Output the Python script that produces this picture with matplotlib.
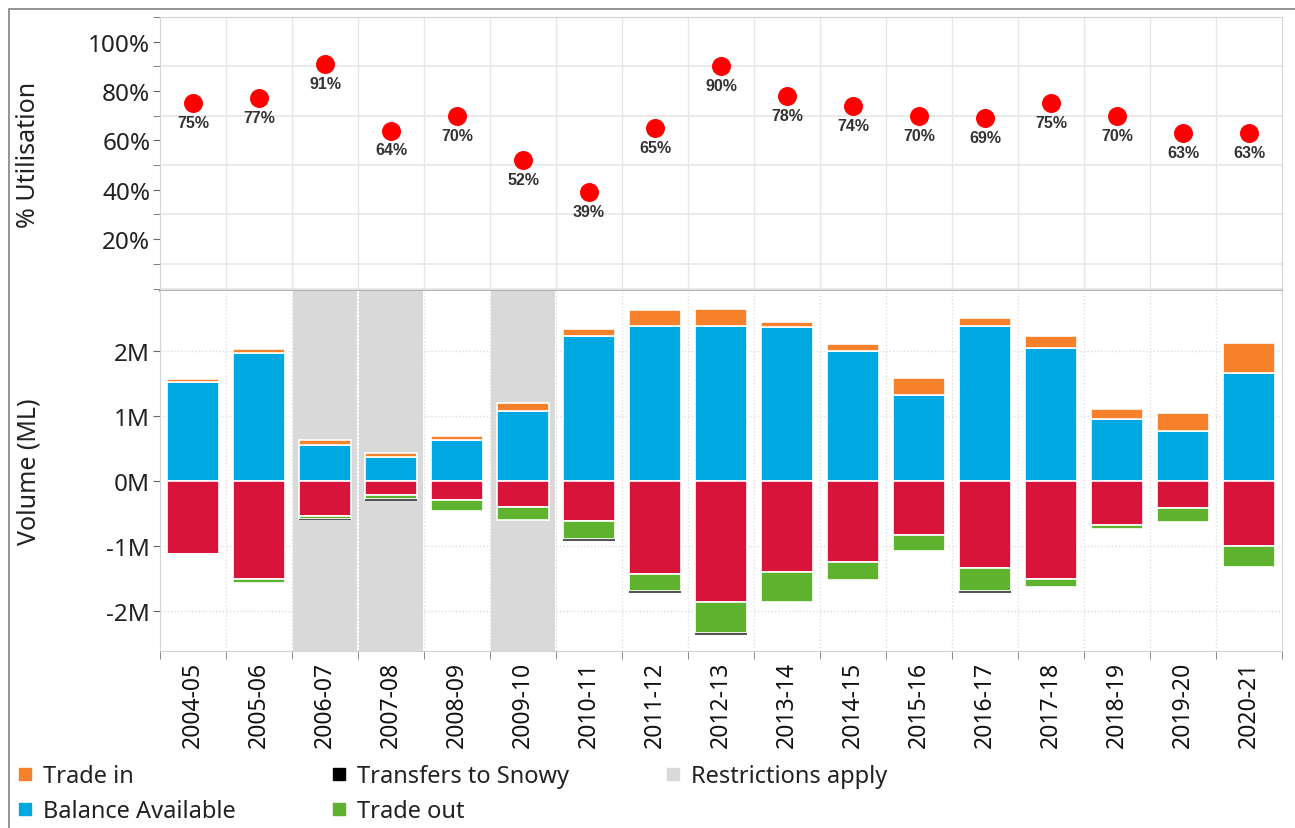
import matplotlib
matplotlib.use("Agg")
import matplotlib.pyplot as plt
from matplotlib.lines import Line2D
from matplotlib.patches import Rectangle
from matplotlib.ticker import FixedLocator, FuncFormatter
import numpy as np

plt.rcParams["font.family"] = ["Noto Sans", "DejaVu Sans"]

# ---------------- dados ----------------
temporadas = ["2004-05", "2005-06", "2006-07", "2007-08", "2008-09", "2009-10",
              "2010-11", "2011-12", "2012-13", "2013-14", "2014-15", "2015-16",
              "2016-17", "2017-18", "2018-19", "2019-20", "2020-21"]
utilizacao = [75, 77, 91, 64, 70, 52, 39, 65, 90, 78, 74, 70, 69, 75, 70, 63, 63]

# volumes em milhoes de ML
saldo = [1.52, 1.96, 0.55, 0.37, 0.62, 1.07, 2.22, 2.38, 2.38, 2.37, 2.00, 1.32,
         2.38, 2.04, 0.95, 0.77, 1.66]
trade_in = [0.04, 0.07, 0.08, 0.06, 0.07, 0.13, 0.12, 0.24, 0.26, 0.08, 0.10, 0.26,
            0.12, 0.19, 0.16, 0.28, 0.46]
uso = [1.12, 1.51, 0.55, 0.215, 0.30, 0.40, 0.62, 1.44, 1.87, 1.40, 1.25, 0.84,
       1.35, 1.51, 0.68, 0.42, 1.01]
trade_out = [0.03, 0.06, 0.04, 0.06, 0.17, 0.20, 0.28, 0.25, 0.48, 0.47, 0.28, 0.24,
             0.34, 0.13, 0.07, 0.22, 0.31]
snowy = [0.0, 0.0, 0.02, 0.03, 0.0, 0.0, 0.03, 0.03, 0.03, 0.0, 0.0, 0.0,
         0.03, 0.0, 0.0, 0.0, 0.0]
restricoes = ["2006-07", "2007-08", "2009-10"]

COR = dict(tin="#f7812a", saldo="#00a8e1", uso="#d9143a", tout="#5fb22e",
           snowy="#555555", rest="#d9d9d9")

x = np.arange(len(temporadas))
fronteiras = np.arange(len(temporadas) + 1) - 0.5

fig = plt.figure(figsize=(12.95, 8.29), dpi=100)
L, R = 160 / 1295, 1282 / 1295
ax1 = fig.add_axes([L, 1 - 292 / 829, R - L, (292 - 18) / 829])
ax2 = fig.add_axes([L, 1 - 652 / 829, R - L, (652 - 292) / 829], sharex=ax1)

# ---------------- painel superior: % utilizacao ----------------
ax1.set_ylim(-1, 110)
ax1.yaxis.set_major_locator(FixedLocator([20, 40, 60, 80, 100]))
ax1.yaxis.set_minor_locator(FixedLocator(np.arange(0, 111, 10)))
ax1.yaxis.set_major_formatter(FuncFormatter(lambda v, p: f"{int(v)}%"))
ax1.grid(which="minor", axis="y", color="#e6e6e6", lw=1.2)
for b in fronteiras[1:-1]:
    ax1.axvline(b, color="#e6e6e6", lw=1, zorder=0)
ax1.scatter(x, utilizacao, s=160, color="#ff0000", zorder=3)
for xi, u in zip(x, utilizacao):
    ax1.annotate(f"{u}%", (xi, u), xytext=(0, -14), textcoords="offset points",
                 ha="center", va="center", fontsize=11.5, fontweight="bold",
                 color="#333333", family=["Liberation Sans", "DejaVu Sans"])
ax1.set_ylabel("% Utilisation", fontsize=18, color="#222222")
ax1.yaxis.set_label_coords(-0.106, 0.5)
ax1.tick_params(axis="x", which="both", bottom=False, labelbottom=False)

# ---------------- painel inferior: volumes ----------------
for t in restricoes:
    i = temporadas.index(t)
    ax2.axvspan(i - 0.49, i + 0.49, color=COR["rest"], lw=0, zorder=0)
for b in fronteiras[1:-1]:
    ax2.axvline(b, color="#e0e0e0", lw=1, ls=(0, (1, 1.5)), zorder=0.5)
for yv in [-2, -1, 1, 2]:
    ax2.axhline(yv, color="#dcdcdc", lw=1, ls=(0, (1, 1.5)), zorder=0.5)

w = 0.78
kw = dict(width=w, edgecolor="white", linewidth=1.2, zorder=2)
saldo = np.array(saldo); trade_in = np.array(trade_in)
uso = np.array(uso); trade_out = np.array(trade_out); snowy = np.array(snowy)
ax2.bar(x, saldo, color=COR["saldo"], **kw)
ax2.bar(x, trade_in, bottom=saldo, color=COR["tin"], **kw)
ax2.bar(x, -uso, color=COR["uso"], **kw)
ax2.bar(x, -trade_out, bottom=-uso, color=COR["tout"], **kw)
ax2.bar(x, -snowy, bottom=-uso - trade_out, width=w, color=COR["snowy"], lw=0, zorder=2)

ax2.set_ylim(-2.62, 2.92)
ax2.set_xlim(-0.5, len(temporadas) - 0.5)
ax2.yaxis.set_major_locator(FixedLocator([-2, -1, 0, 1, 2]))
ax2.yaxis.set_major_formatter(FuncFormatter(lambda v, p: f"{int(round(v))}M"))
ax2.set_ylabel("Volume (ML)", fontsize=18, color="#222222")
ax2.yaxis.set_label_coords(-0.106, 0.5)
ax2.set_xticks(x)
ax2.set_xticklabels(temporadas, rotation=90, fontsize=16.5, color="#111111")
ax2.xaxis.set_minor_locator(FixedLocator(fronteiras))
ax2.tick_params(axis="x", which="major", length=0, pad=7)
ax2.tick_params(axis="x", which="minor", length=6, color="#777777")

for ax in (ax1, ax2):
    for s in ax.spines.values():
        s.set_color("#d4d4d4")
    ax.tick_params(axis="y", which="both", length=5, color="#666666",
                   labelsize=17.5, labelcolor="#222222", pad=2)
ax1.spines["bottom"].set_color("#b0b0b0"); ax1.spines["bottom"].set_linewidth(1.6)
ax2.spines["top"].set_visible(False)

# moldura externa
fig.patches.append(Rectangle((9 / 1295, -0.02), 1.05, 1 - 10 / 829 + 0.02,
                             transform=fig.transFigure, fill=False,
                             edgecolor="#8c8c8c", lw=1.3))

# ---------------- legenda ----------------
def quad(c):
    return Line2D([], [], ls="none", marker="s", markersize=8, color=c)

handles = [quad(COR["tin"]), quad(COR["saldo"]), quad("black"), quad(COR["tout"]),
           quad(COR["rest"])]
labels = ["Trade in", "Balance Available", "Transfers to Snowy", "Trade out",
          "Restrictions apply"]
fig.legend(handles, labels, ncol=3, loc="upper left", bbox_to_anchor=(0.003, 0.094),
           frameon=False, fontsize=17, handlelength=0.6, handletextpad=0.45,
           columnspacing=4.1, labelspacing=0.45, labelcolor="#222222",
           borderaxespad=0.2)

fig.savefig("out.png", dpi=100)
